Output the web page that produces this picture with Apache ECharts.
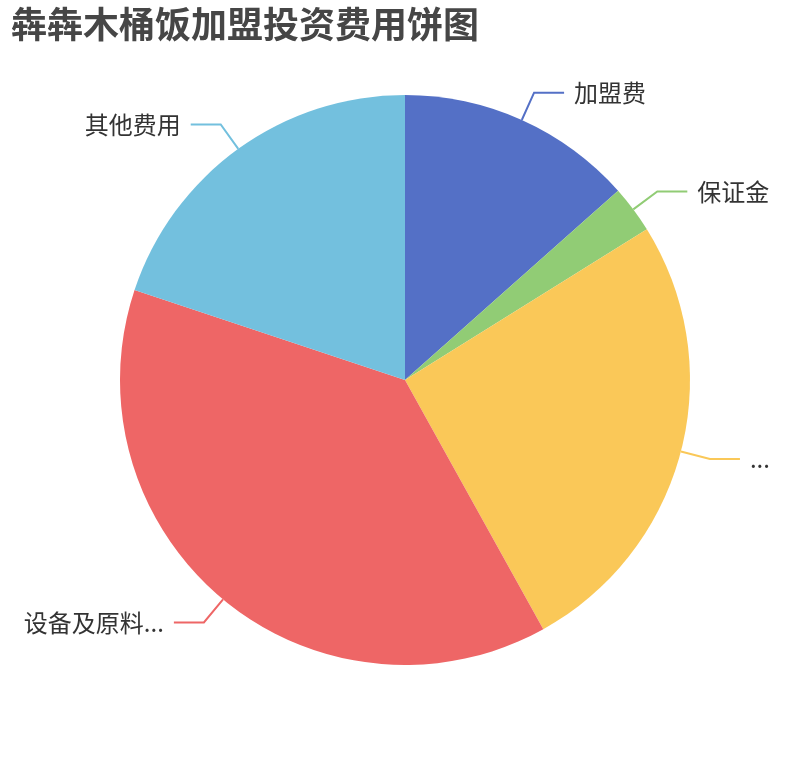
<!DOCTYPE html>
<html>
<head>
<meta charset="utf-8">
<script src="https://cdn.jsdelivr.net/npm/echarts@6/dist/echarts.min.js"></script>
<style>
html,body{margin:0;padding:0;background:#fff;}
#main{width:810px;height:760px;}
</style>
</head>
<body>
<div id="main"></div>
<script>
const titleText = '犇犇木桶饭加盟投资费用饼图';
const categories = ['加盟费', '保证金', '店面装修费用', '设备及原料采购', '其他费用'];
const values = [5, 1, 9.6, 14.2, 7.4];
const colors = ['#5470c6', '#91cc75', '#fac858', '#ee6666', '#73c0de'];

const chart = echarts.init(document.getElementById('main'));
chart.setOption({
  color: colors,
  animation: false,
  title: {
    text: titleText,
    left: 6,
    top: 1,
    textStyle: {
      fontSize: 36,
      fontWeight: 'bold',
      color: '#464646',
      fontFamily: 'Noto Sans CJK SC'
    }
  },
  series: [{
    type: 'pie',
    radius: '75%',
    center: ['50%', '50%'],
    startAngle: 90,
    clockwise: true,
    itemStyle: { borderWidth: 0 },
    label: {
      show: true,
      position: 'outside',
      fontSize: 24,
      color: '#333',
      fontFamily: 'Noto Sans CJK SC',
      distanceToLabelLine: 10,
      bleedMargin: 20
    },
    labelLine: {
      show: true,
      length: 30,
      length2: 30,
      lineStyle: { width: 2 }
    },
    data: categories.map((c, i) => ({ name: c, value: values[i] }))
  }]
});
</script>
</body>
</html>
